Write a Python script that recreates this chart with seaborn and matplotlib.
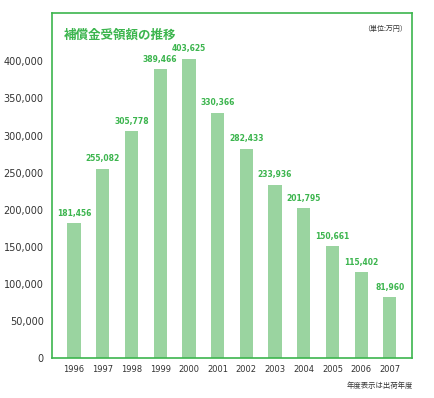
import matplotlib
matplotlib.use("Agg")
import matplotlib.pyplot as plt
import seaborn as sns
import pandas as pd

years = ["1996", "1997", "1998", "1999", "2000", "2001",
         "2002", "2003", "2004", "2005", "2006", "2007"]
amounts = [181456, 255082, 305778, 389466, 403625, 330366,
           282433, 233936, 201795, 150661, 115402, 81960]
y_ticks = [0, 50000, 100000, 150000, 200000, 250000, 300000, 350000, 400000]

title = "補償金受領額の推移"
unit_note = "（単位:万円）"
foot_note = "年度表示は出荷年度"

sns.set_style("white")
plt.rcParams['font.family'] = ['Noto Sans CJK JP', 'DejaVu Sans']

green = "#3cb54e"
bar_green = "#9ad4a0"

df = pd.DataFrame({"year": years, "amount": amounts})

fig = plt.figure(figsize=(4.35, 3.98), dpi=100)
ax = fig.add_axes([0.1195, 0.1005, 0.8275, 0.8665])

sns.barplot(data=df, x="year", y="amount", color=bar_green, width=0.46,
            saturation=1, linewidth=0, ax=ax)

ax.set_xlim(-0.77, 11.77)
ax.set_ylim(0, 465000)
ax.set_yticks(y_ticks)
ax.set_yticklabels([f"{v:,}" for v in y_ticks], fontsize=7, color="#333333",
                   family="DejaVu Sans")
ax.tick_params(axis="x", labelsize=6, colors="#333333", length=0, pad=5)
ax.tick_params(axis="y", length=0, pad=6)
for lbl in ax.get_xticklabels():
    lbl.set_family("DejaVu Sans")
ax.set_xlabel("")
ax.set_ylabel("")

for s in ax.spines.values():
    s.set_color(green)
    s.set_linewidth(1.2)

# value labels above bars
for i, v in enumerate(amounts):
    ax.annotate(f"{v:,}", (i, v), xytext=(0, 4), textcoords="offset points",
                ha="center", va="bottom", fontsize=5.5, color=green,
                fontweight="semibold", family="DejaVu Sans")

ax.text(0.033, 0.955, title, transform=ax.transAxes, fontsize=9,
        color=green, fontweight="bold", va="top", ha="left")
ax.text(0.985, 0.965, unit_note, transform=ax.transAxes, fontsize=5,
        color="#333333", va="top", ha="right")
fig.text(0.95, 0.03, foot_note, fontsize=5.3, color="#333333", ha="right",
         va="center")

fig.savefig("out.png", dpi=100)
